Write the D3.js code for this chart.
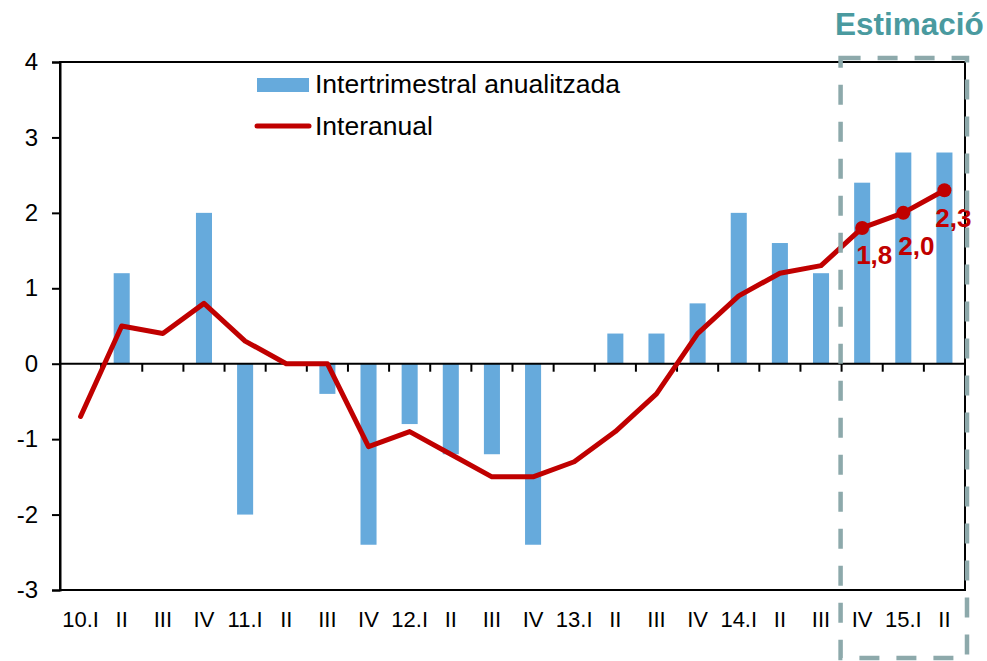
<!DOCTYPE html>
<html>
<head>
<meta charset="utf-8">
<script src="https://cdn.jsdelivr.net/npm/d3@7"></script>
<style>
  body { margin: 0; background: #fff; }
  svg { font-family: "Liberation Sans", Arial, sans-serif; }
</style>
</head>
<body>
<svg width="987" height="661"></svg>
<script>
// data ==========================================================
var quarters = ["10.I", "II", "III", "IV", "11.I", "II", "III", "IV", "12.I", "II", "III", "IV",
                "13.I", "II", "III", "IV", "14.I", "II", "III", "IV", "15.I", "II"];
var intertrimestral = [null, 1.2, null, 2.0, -2.0, null, -0.4, -2.4, -0.8, -1.2, -1.2, -2.4,
                       null, 0.4, 0.4, 0.8, 2.0, 1.6, 1.2, 2.4, 2.8, 2.8];
var interanual = [-0.7, 0.5, 0.4, 0.8, 0.3, 0.0, 0.0, -1.1, -0.9, -1.2, -1.5, -1.5,
                  -1.3, -0.9, -0.4, 0.4, 0.9, 1.2, 1.3, 1.8, 2.0, 2.3];
var labelled = [19, 20, 21];          // points with a marker and a value label
var yTicks = [-3, -2, -1, 0, 1, 2, 3, 4];
var seriesNames = ["Intertrimestral anualitzada", "Interanual"];
var estimateFrom = 19;                // first estimated quarter

var barColor = "#66aadc", lineColor = "#c00000", boxColor = "#8da9ab";

// layout ========================================================
var svg = d3.select("svg");
var plotLeft = 60, plotRight = 965, plotTop = 62, plotBottom = 590;
var ids = quarters.map(function(d, i) { return i; });

var x = d3.scaleBand().domain(ids).range([plotLeft, plotRight]).paddingInner(0).paddingOuter(0);
var y = d3.scaleLinear().domain([-3, 4]).range([plotBottom, plotTop]);

// bars
svg.append("g").selectAll("rect")
  .data(ids.filter(function(i) { return intertrimestral[i] != null; }))
  .enter().append("rect")
    .attr("x", function(i) { return x(i) + x.bandwidth() * 0.305; })
    .attr("width", x.bandwidth() * 0.39)
    .attr("y", function(i) { return y(Math.max(0, intertrimestral[i])); })
    .attr("height", function(i) { return Math.abs(y(intertrimestral[i]) - y(0)); })
    .attr("fill", barColor);

// frame
svg.append("rect")
  .attr("x", plotLeft).attr("y", plotTop)
  .attr("width", plotRight - plotLeft).attr("height", plotBottom - plotTop)
  .attr("fill", "none").attr("stroke", "#000").attr("stroke-width", 2);

// y axis
var yAxis = svg.append("g")
  .attr("transform", "translate(" + plotLeft + ",0)")
  .call(d3.axisLeft(y).tickValues(yTicks).tickSize(8).tickPadding(14)
    .tickFormat(function(d) { return d; }));
yAxis.select(".domain").attr("stroke-width", 2);
yAxis.selectAll(".tick line").attr("stroke-width", 2);
yAxis.selectAll("text").attr("font-size", 24).attr("fill", "#000")
  .attr("font-family", "Liberation Sans, Arial, sans-serif");

// x axis at zero with ticks on band boundaries
var xAxis = svg.append("g").attr("transform", "translate(0," + y(0) + ")");
xAxis.append("line").attr("x1", plotLeft).attr("x2", plotRight)
  .attr("stroke", "#000").attr("stroke-width", 2);
xAxis.selectAll(".bt")
  .data(ids.slice(1))
  .enter().append("line")
    .attr("x1", function(i) { return x(i); })
    .attr("x2", function(i) { return x(i); })
    .attr("y1", 0).attr("y2", 8)
    .attr("stroke", "#000").attr("stroke-width", 2);

// category labels under the frame
svg.append("g").selectAll("text")
  .data(ids)
  .enter().append("text")
    .attr("x", function(i) { return x(i) + x.bandwidth() / 2; })
    .attr("y", 627)
    .attr("text-anchor", "middle")
    .attr("font-size", 22)
    .text(function(i) { return quarters[i]; });

// line
var line = d3.line()
  .x(function(d, i) { return x(i) + x.bandwidth() / 2; })
  .y(function(d) { return y(d); });
svg.append("path")
  .datum(interanual)
  .attr("d", line)
  .attr("fill", "none")
  .attr("stroke", lineColor)
  .attr("stroke-width", 5)
  .attr("stroke-linejoin", "round")
  .attr("stroke-linecap", "round");

svg.append("g").selectAll("circle")
  .data(labelled)
  .enter().append("circle")
    .attr("cx", function(i) { return x(i) + x.bandwidth() / 2; })
    .attr("cy", function(i) { return y(interanual[i]); })
    .attr("r", 7)
    .attr("fill", lineColor);

var labelOffsets = [[-6, 36], [-5, 42], [9, 37]];
svg.append("g").selectAll("text")
  .data(labelled)
  .enter().append("text")
    .attr("x", function(i, k) { return x(i) + x.bandwidth() / 2 + labelOffsets[k][0]; })
    .attr("y", function(i, k) { return y(interanual[i]) + labelOffsets[k][1]; })
    .attr("text-anchor", function(i, k) { return k == 2 ? "middle" : "start"; })
    .attr("font-size", 26)
    .attr("font-weight", "bold")
    .attr("fill", lineColor)
    .text(function(i) { return d3.format(".1f")(interanual[i]).replace(".", ","); });

// estimate box
var bx = x(estimateFrom) - 1, bw = 967 - bx;
svg.append("rect")
  .attr("x", bx).attr("y", 58)
  .attr("width", bw).attr("height", 600)
  .attr("fill", "none")
  .attr("stroke", boxColor)
  .attr("stroke-width", 4.5)
  .attr("stroke-dasharray", "20,17");

svg.append("text")
  .attr("x", 835).attr("y", 35)
  .attr("font-size", 31.5)
  .attr("font-weight", "bold")
  .attr("fill", "#4a9a9f")
  .text("Estimació");

// legend
var legend = svg.append("g");
legend.append("rect")
  .attr("x", 257).attr("y", 78).attr("width", 52).attr("height", 14)
  .attr("fill", barColor);
legend.append("line")
  .attr("x1", 257).attr("x2", 309).attr("y1", 126).attr("y2", 126)
  .attr("stroke", lineColor).attr("stroke-width", 5).attr("stroke-linecap", "round");
legend.selectAll("text")
  .data(seriesNames)
  .enter().append("text")
    .attr("x", 315)
    .attr("y", function(d, i) { return 93 + i * 42; })
    .attr("font-size", 26.5)
    .text(function(d) { return d; });
</script>
</body>
</html>
